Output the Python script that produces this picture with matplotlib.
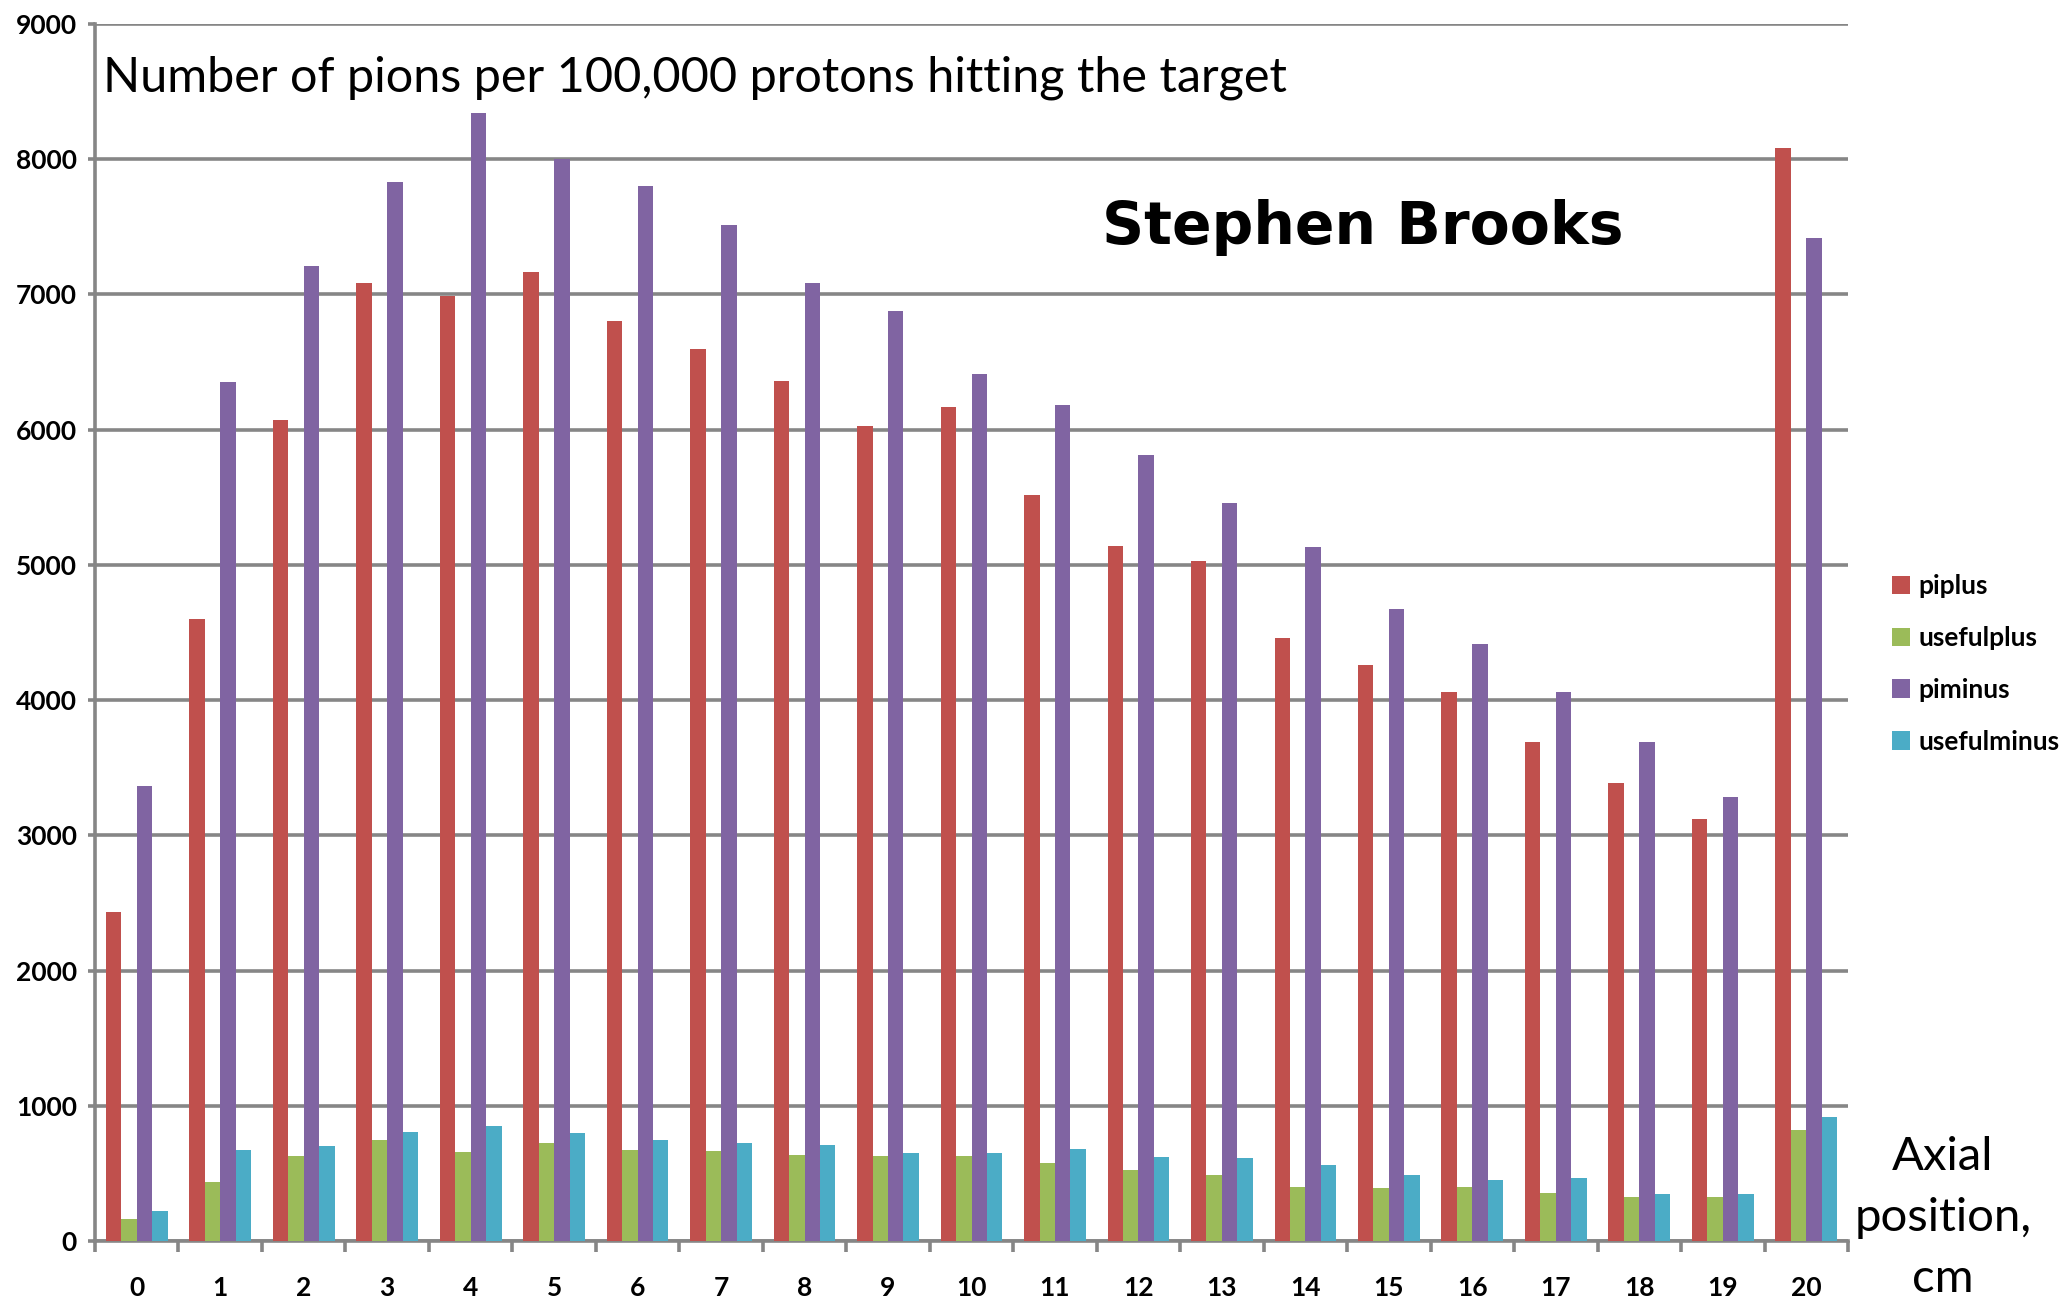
import numpy as np
import matplotlib
matplotlib.use("Agg")
import matplotlib.pyplot as plt
from matplotlib.patches import Patch

positions = [str(i) for i in range(21)]
piplus = [2430, 4600, 6070, 7085, 6990, 7165, 6805, 6600, 6360, 6030, 6170,
          5520, 5140, 5030, 4460, 4260, 4060, 3690, 3390, 3120, 8085]
usefulplus = [165, 435, 630, 745, 660, 725, 672, 665, 635, 632, 632,
              578, 528, 488, 400, 390, 400, 358, 325, 325, 820]
piminus = [3365, 6350, 7210, 7835, 8345, 8005, 7800, 7510, 7085, 6880, 6410,
           6180, 5815, 5455, 5135, 4675, 4415, 4062, 3690, 3285, 7420]
usefulminus = [222, 674, 704, 808, 852, 800, 746, 722, 712, 652, 652,
               682, 622, 612, 562, 488, 448, 468, 350, 348, 915]

series = [("piplus", piplus, "#C0504D"),
          ("usefulplus", usefulplus, "#9BBB59"),
          ("piminus", piminus, "#8064A2"),
          ("usefulminus", usefulminus, "#4BACC6")]

title_text = "Number of pions per 100,000 protons hitting the target"
author_text = "Stephen Brooks"
xlabel_text = "Axial\nposition,\ncm"
yticks = list(range(0, 9001, 1000))

plt.rcParams['font.family'] = ['Lato', 'DejaVu Sans']

W, H = 2065, 1303
fig = plt.figure(figsize=(W / 100, H / 100), dpi=100)
left, right = 95 / W, 1848 / W
bottom, top = 1 - 1241 / H, 1 - 24 / H
ax = fig.add_axes([left, bottom, right - left, top - bottom])

grid_c = "#868686"
x = np.arange(len(positions))
w = 0.185
for i, (name, vals, col) in enumerate(series):
    ax.bar(x + (i - 1.5) * w, vals, width=w, color=col, label=name,
           edgecolor="none", zorder=3)

ax.set_xlim(-0.5, len(positions) - 0.5)
ax.set_ylim(0, 9000)
ax.set_yticks(yticks)
ax.set_yticklabels([str(v) for v in yticks], fontweight="bold", fontsize=19)
ax.yaxis.grid(True, color=grid_c, linewidth=2.6, zorder=0)
ax.tick_params(axis="y", length=5, width=2.6, color=grid_c, pad=8)

ax.set_xticks(np.arange(-0.5, len(positions), 1.0))
ax.set_xticklabels([])
ax.tick_params(axis="x", which="major", length=8, width=2.6, color=grid_c, direction="out")
ax.set_xticks(x, minor=True)
ax.set_xticklabels(positions, minor=True, fontweight="bold", fontsize=19)
ax.tick_params(axis="x", which="minor", length=0, pad=25)

for s in ["top", "right"]:
    ax.spines[s].set_visible(False)
for s in ["left", "bottom"]:
    ax.spines[s].set_color(grid_c)
    ax.spines[s].set_linewidth(2.6)
ax.set_axisbelow(True)

fig.text(103 / W, 1 - 78 / H, title_text, fontsize=35, ha="left", va="center")
fig.text(1363 / W, 1 - 228 / H, author_text, fontsize=42, fontweight="bold",
         ha="center", va="center", family=["DejaVu Sans"])
fig.text(1943 / W, 1 - 1218 / H, xlabel_text, fontsize=34, ha="center", va="center",
         linespacing=1.55)

handles = [Patch(facecolor=c, edgecolor="none") for _, _, c in series]
leg = fig.legend(handles, [n for n, _, _ in series], loc="center left",
                 bbox_to_anchor=(1892 / W, 1 - 664 / H), frameon=False,
                 prop={"weight": "bold", "size": 19}, handlelength=0.7,
                 handleheight=0.7, handletextpad=0.3, labelspacing=1.05,
                 borderpad=0, borderaxespad=0)

fig.savefig("out.png", dpi=100)
